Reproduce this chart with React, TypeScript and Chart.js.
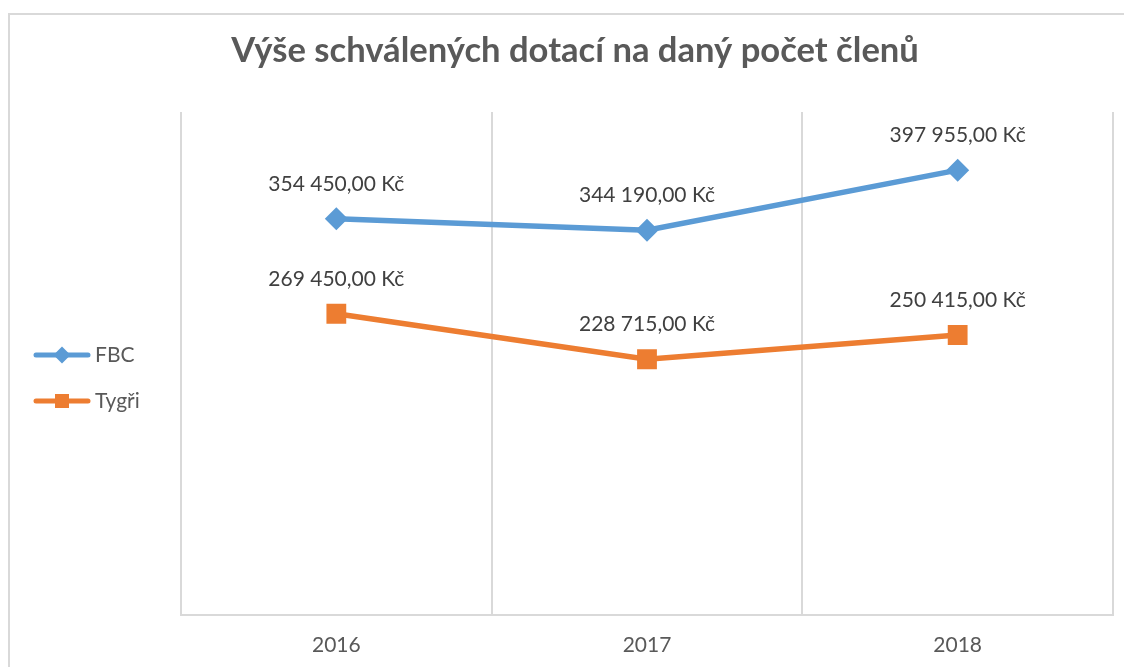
import React, { useEffect, useRef } from "react";
import { Chart, registerables } from "chart.js";

Chart.register(...registerables);

const categories = ["2016", "2017", "2018"];
const fbcValues = [354450, 344190, 397955];
const tygriValues = [269450, 228715, 250415];
const seriesNames = ["FBC", "Tygři"];
const seriesColors = ["#5B9BD5", "#ED7D31"];
const chartTitle = "Výše schválených dotací na daný počet členů";
const yMin = 0;
const yMax = 450000;

const FONT = "Lato, 'Open Sans', sans-serif";

function formatKc(v: number): string {
  const [i, d] = v.toFixed(2).split(".");
  return i.replace(/\B(?=(\d{3})+(?!\d))/g, " ") + "," + d + " Kč";
}

const decorPlugin = {
  id: "decor",
  beforeDraw(chart: any) {
    const ctx = chart.ctx as CanvasRenderingContext2D;
    ctx.save();
    // outer frame
    ctx.strokeStyle = "#d9d9d9";
    ctx.lineWidth = 2;
    ctx.strokeRect(1, 6, chart.width + 100, chart.height + 100);
    // title
    ctx.fillStyle = "#595959";
    ctx.font = `bold 34.6px ${FONT}`;
    ctx.textAlign = "center";
    ctx.textBaseline = "alphabetic";
    ctx.fillText(chartTitle, 567, 54);
    // legend
    chart.data.datasets.forEach((ds: any, i: number) => {
      const y = 347 + i * 46;
      ctx.strokeStyle = ds.borderColor;
      ctx.lineWidth = 5;
      ctx.lineCap = "round";
      ctx.beginPath();
      ctx.moveTo(28, y);
      ctx.lineTo(80, y);
      ctx.stroke();
      ctx.fillStyle = ds.borderColor;
      const cx = 54;
      ctx.beginPath();
      if (ds.pointStyle === "rectRot") {
        const h = 8.5;
        ctx.moveTo(cx - h, y);
        ctx.lineTo(cx, y - h);
        ctx.lineTo(cx + h, y);
        ctx.lineTo(cx, y + h);
        ctx.closePath();
      } else {
        const h = 7;
        ctx.rect(cx - h, y - h, 2 * h, 2 * h);
      }
      ctx.fill();
      ctx.fillStyle = "#595959";
      ctx.font = `21px ${FONT}`;
      ctx.textAlign = "left";
      ctx.fillText(ds.label, 87, y + 7);
    });
    ctx.restore();
  },
  afterDatasetsDraw(chart: any) {
    const ctx = chart.ctx as CanvasRenderingContext2D;
    ctx.save();
    ctx.fillStyle = "#404040";
    ctx.font = `21px ${FONT}`;
    ctx.textAlign = "center";
    ctx.textBaseline = "alphabetic";
    chart.data.datasets.forEach((ds: any, di: number) => {
      const meta = chart.getDatasetMeta(di);
      meta.data.forEach((el: any, i: number) => {
        ctx.fillText(formatKc(ds.data[i]), el.x, el.y - 28);
      });
    });
    ctx.restore();
  },
};

export default function App() {
  const ref = useRef<HTMLCanvasElement>(null);
  useEffect(() => {
    if (!ref.current) return;
    const chart = new Chart(ref.current, {
      type: "line",
      data: {
        labels: categories,
        datasets: [
          {
            label: seriesNames[0],
            data: fbcValues,
            borderColor: seriesColors[0],
            backgroundColor: seriesColors[0],
            borderWidth: 5.5,
            pointStyle: "rectRot",
            pointRadius: 11.5,
            pointHoverRadius: 11.5,
            pointBorderWidth: 0,
            tension: 0,
          },
          {
            label: seriesNames[1],
            data: tygriValues,
            borderColor: seriesColors[1],
            backgroundColor: seriesColors[1],
            borderWidth: 5.5,
            pointStyle: "rect",
            pointRadius: 14,
            pointHoverRadius: 14,
            pointBorderWidth: 0,
            tension: 0,
          },
        ],
      },
      options: {
        responsive: false,
        animation: false,
        layout: { padding: { left: 173, right: 19, top: 104, bottom: 7 } },
        plugins: {
          legend: { display: false },
          title: { display: false },
          tooltip: { enabled: false },
        },
        scales: {
          x: {
            offset: true,
            grid: {
              offset: true,
              color: "#d9d9d9",
              lineWidth: 2,
              drawTicks: false,
            },
            border: { color: "#d9d9d9", width: 2 },
            ticks: {
              color: "#595959",
              font: { family: FONT, size: 21 },
              padding: 18,
            },
          },
          y: {
            display: false,
            min: yMin,
            max: yMax,
          },
        },
      },
      plugins: [decorPlugin],
    });
    return () => chart.destroy();
  }, []);
  return (
    <div style={{ width: 1124, height: 659, overflow: "hidden" }}>
      <canvas ref={ref} width={1124} height={675} style={{ display: "block" }} />
    </div>
  );
}
